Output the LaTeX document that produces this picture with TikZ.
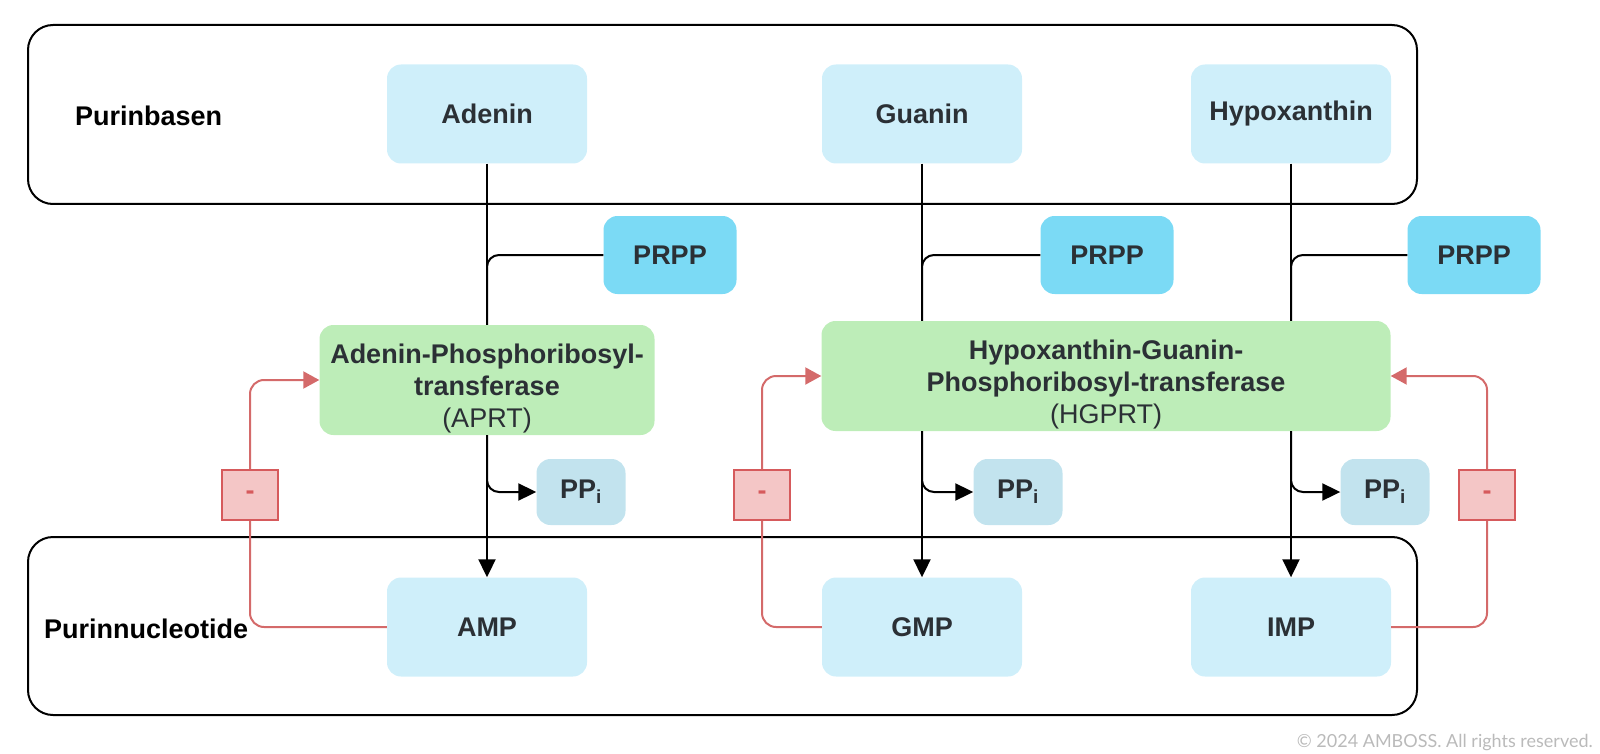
\documentclass[tikz,border=0pt]{standalone}
\usepackage{fontspec}
\setmainfont{Liberation Sans}
\newfontfamily\latofont{Lato}
\usetikzlibrary{arrows.meta}
\definecolor{basec}{HTML}{CFEFFA}
\definecolor{prppc}{HTML}{7BDAF5}
\definecolor{enzc}{HTML}{BDEDB8}
\definecolor{ppc}{HTML}{C2E3EE}
\definecolor{inhf}{HTML}{F4C6C6}
\definecolor{inhd}{HTML}{D65A5C}
\definecolor{redl}{HTML}{D46A6A}
\definecolor{txt}{HTML}{2B3035}
\newcommand{\fs}{\fontsize{27}{32}\selectfont}
\newcommand{\lift}{\rule{0pt}{36pt}}
\tikzstyle{box}=[rounded corners=14pt,inner sep=0pt,text=txt,font=\fs\bfseries]
\tikzstyle{bs}=[box,fill=basec,minimum width=200pt,minimum height=99pt]
\tikzstyle{pr}=[box,fill=prppc,minimum width=133pt,minimum height=78pt]
\tikzstyle{enz}=[box,fill=enzc,align=center,minimum height=110pt]
\tikzstyle{pp}=[box,fill=ppc,minimum width=89pt,minimum height=66pt]
\tikzstyle{inh}=[draw=inhd,fill=inhf,line width=2pt,inner sep=0pt,minimum width=56pt,minimum height=50pt,text=inhd,font=\fs\bfseries]
\tikzstyle{ln}=[draw=black,line width=2pt,rounded corners=12pt]
\tikzstyle{ar}=[ln,-{Triangle[width=17pt,length=18pt]}]
\tikzstyle{rd}=[draw=redl,line width=2pt,rounded corners=14pt]
\tikzstyle{rar}=[rd,-{Triangle[width=17pt,length=16pt]}]

\begin{document}
\begin{tikzpicture}[x=1pt,y=-1pt]
\useasboundingbox (0,0) rectangle (1600,754);
% groups
\draw[line width=2pt,rounded corners=25pt] (28,25) rectangle (1417,204);
\draw[line width=2pt,rounded corners=25pt] (28,537) rectangle (1417,715);
\node[anchor=west,inner sep=0pt,font=\fs\bfseries] (lbase) at (75,116) {Purinbasen};
\node[anchor=west,inner sep=0pt,font=\fs\bfseries] (lnuc) at (44,629) {Purinnucleotide};

% bases
\node[bs] (ade) at (487,114) {Adenin};
\node[bs] (gua) at (922,114) {Guanin};
\node[bs] (hyp) at (1291,114) {Hypoxanthin};

% PRPP
\node[pr] (prpp1) at (670,255) {PRPP};
\node[pr] (prpp2) at (1107,255) {PRPP};
\node[pr] (prpp3) at (1474,255) {PRPP};

% enzymes
\node[enz,minimum width=335pt] (aprt) at (487,380) {\lift Adenin-Phosphoribosyl-\\transferase\\{\mdseries (APRT)}};
\node[enz,minimum width=569pt] (hgprt) at (1106,376) {\lift Hypoxanthin-Guanin-\\Phosphoribosyl-transferase\\{\mdseries (HGPRT)}};

% PPi
\node[pp] (ppi1) at (581,492) {PP\textsubscript{i}};
\node[pp] (ppi2) at (1018,492) {PP\textsubscript{i}};
\node[pp] (ppi3) at (1385,492) {PP\textsubscript{i}};

% nucleotides
\node[bs] (amp) at (487,627) {AMP};
\node[bs] (gmp) at (922,627) {GMP};
\node[bs] (imp) at (1291,627) {IMP};

% inhibition
\node[inh] (inh1) at (250,495) {-};
\node[inh] (inh2) at (762,495) {-};
\node[inh] (inh3) at (1487,495) {-};

% APRT
\draw[ln] (ade.south) -- (aprt.north);
\draw[ln] (prpp1.west) -| (aprt.north);
\draw[ar] (aprt.south) |- (ppi1.west);
\draw[ar] (aprt.south) -- (amp.north);

% HGPRT, guanin
\draw[ln] (gua.south) -- (gua.south |- hgprt.north);
\draw[ln] (prpp2.west) -| (gua.south |- hgprt.north);
\draw[ar] (gua.south |- hgprt.south) |- (ppi2.west);
\draw[ar] (gua.south |- hgprt.south) -- (gmp.north);

% HGPRT, hypoxanthin
\draw[ln] (hyp.south) -- (hyp.south |- hgprt.north);
\draw[ln] (prpp3.west) -| (hyp.south |- hgprt.north);
\draw[ar] (hyp.south |- hgprt.south) |- (ppi3.west);
\draw[ar] (hyp.south |- hgprt.south) -- (imp.north);

% feedback
\draw[rd] (amp.west) -| (inh1.south);
\draw[rar] (inh1.north) |- (aprt.west);
\draw[rd] (gmp.west) -| (inh2.south);
\draw[rar] (inh2.north) |- (hgprt.west);
\draw[rd] (imp.east) -| (inh3.south);
\draw[rar] (inh3.north) |- (hgprt.east);

\node[anchor=base east,inner sep=0pt,text=black!27,font=\latofont\fontsize{18}{20}\selectfont] (copy) at (1593,747) {© 2024 AMBOSS. All rights reserved.};
\end{tikzpicture}
\end{document}
